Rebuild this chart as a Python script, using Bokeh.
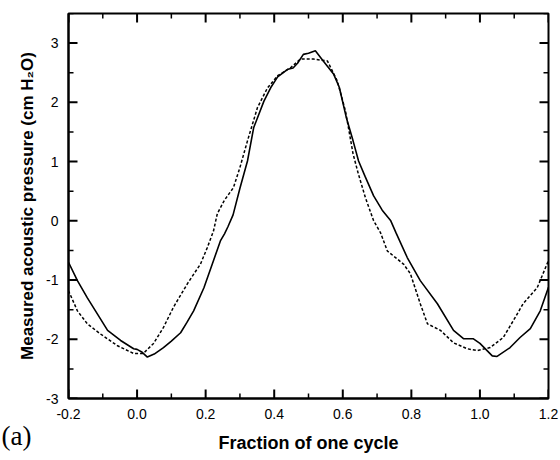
from bokeh.plotting import figure
from bokeh.models import FixedTicker, Range1d, Title, PrintfTickFormatter
from bokeh.embed import file_html
from bokeh.resources import INLINE

# ---- data ----
solid_x = [-0.20, -0.174, -0.145, -0.115, -0.086, -0.048, -0.01, 0.00, 0.015, 0.03, 0.05, 0.077,
           0.10, 0.127, 0.145, 0.165, 0.195, 0.223, 0.243, 0.255, 0.265, 0.28, 0.30, 0.322,
           0.34, 0.37, 0.39, 0.41, 0.44, 0.455, 0.468, 0.485, 0.50, 0.52, 0.543, 0.573, 0.59,
           0.61, 0.63, 0.646, 0.665, 0.69, 0.715, 0.74, 0.755, 0.788, 0.826, 0.876, 0.923,
           0.952, 0.98, 1.00, 1.036, 1.05, 1.088, 1.117, 1.147, 1.176, 1.20]
solid_y = [-0.70, -1.01, -1.30, -1.58, -1.85, -2.02, -2.16, -2.17, -2.22, -2.30, -2.25, -2.14,
           -2.03, -1.89, -1.72, -1.52, -1.13, -0.67, -0.34, -0.22, -0.10, 0.10, 0.55, 1.01,
           1.57, 2.02, 2.25, 2.43, 2.56, 2.58, 2.66, 2.81, 2.83, 2.87, 2.70, 2.48, 2.25,
           1.75, 1.35, 1.01, 0.75, 0.42, 0.18, 0.00, -0.20, -0.62, -1.01, -1.40, -1.85,
           -1.99, -1.99, -2.07, -2.28, -2.29, -2.14, -1.97, -1.82, -1.52, -1.12]

dashed_x = [-0.20, -0.174, -0.145, -0.107, -0.057, -0.01, 0.018, 0.048, 0.077, 0.106, 0.147,
            0.185, 0.205, 0.223, 0.234, 0.255, 0.281, 0.30, 0.322, 0.351, 0.38, 0.41, 0.447,
            0.476, 0.514, 0.555, 0.584, 0.608, 0.63, 0.645, 0.666, 0.69, 0.71, 0.73, 0.777,
            0.797, 0.826, 0.847, 0.885, 0.923, 0.963, 0.992, 1.03, 1.068, 1.097, 1.126, 1.167, 1.20]
dashed_y = [-1.18, -1.52, -1.74, -1.91, -2.11, -2.24, -2.24, -2.07, -1.80, -1.46, -1.06,
            -0.73, -0.45, -0.17, 0.12, 0.35, 0.56, 0.90, 1.35, 1.91, 2.24, 2.45, 2.58,
            2.73, 2.73, 2.70, 2.36, 1.85, 1.13, 0.80, 0.39, 0.00, -0.20, -0.51, -0.73,
            -0.89, -1.40, -1.74, -1.85, -2.06, -2.16, -2.19, -2.14, -1.97, -1.69, -1.40, -1.13, -0.67]

x_ticks = [-0.2, 0.0, 0.2, 0.4, 0.6, 0.8, 1.0, 1.2]
x_minor = [-0.1, 0.1, 0.3, 0.5, 0.7, 0.9, 1.1]
y_ticks = [-3, -2, -1, 0, 1, 2, 3]
y_minor = [-2.5, -1.5, -0.5, 0.5, 1.5, 2.5, 3.5]

x_lo, x_hi = -0.2, 1.2
y_lo, y_hi = -3.0, 3.5

FRAME_W, FRAME_H = 480, 385

p = figure(width=560, height=460, output_backend="svg", toolbar_location=None,
           x_range=Range1d(x_lo, x_hi), y_range=Range1d(y_lo, y_hi),
           min_border_left=68, min_border_right=12, min_border_top=13, min_border_bottom=62)
p.background_fill_color = "white"
p.border_fill_color = "white"
p.xgrid.visible = False
p.ygrid.visible = False
p.outline_line_color = "black"
p.outline_line_width = 2

p.line(solid_x, solid_y, line_color="black", line_width=1.6)
p.line(dashed_x, dashed_y, line_color="black", line_width=1.5, line_dash="3 2")

# inward ticks on all four sides (lengths given in pixels, converted to data units)
dx_px = (x_hi - x_lo) / FRAME_W
dy_px = (y_hi - y_lo) / FRAME_H
for tk, ln, w in ((x_ticks, 9, 2), (x_minor, 5, 1.5)):
    n = len(tk)
    p.segment(x0=tk, y0=[y_lo] * n, x1=tk, y1=[y_lo + ln * dy_px] * n,
              line_color="black", line_width=w)
    p.segment(x0=tk, y0=[y_hi] * n, x1=tk, y1=[y_hi - ln * dy_px] * n,
              line_color="black", line_width=w)
for tk, ln, w in ((y_ticks, 9, 2), (y_minor, 5, 1.5)):
    n = len(tk)
    p.segment(x0=[x_lo] * n, y0=tk, x1=[x_lo + ln * dx_px] * n, y1=tk,
              line_color="black", line_width=w)
    p.segment(x0=[x_hi] * n, y0=tk, x1=[x_hi - ln * dx_px] * n, y1=tk,
              line_color="black", line_width=w)

xa = p.xaxis[0]
ya = p.yaxis[0]
xa.ticker = FixedTicker(ticks=x_ticks, minor_ticks=[])
ya.ticker = FixedTicker(ticks=y_ticks, minor_ticks=[])
xa.formatter = PrintfTickFormatter(format="%.1f")
ya.formatter = PrintfTickFormatter(format="%d")
for ax in (xa, ya):
    ax.major_tick_in = 0
    ax.major_tick_out = 0
    ax.minor_tick_in = 0
    ax.minor_tick_out = 0
    ax.axis_line_width = 2
    ax.axis_line_color = "black"
    ax.major_label_text_font = "Liberation Sans"
    ax.major_label_text_font_size = "14px"
    ax.major_label_text_color = "black"
    ax.axis_label_text_font = "Liberation Sans"
    ax.axis_label_text_font_style = "bold"
    ax.axis_label_text_color = "black"
xa.axis_label_text_font_size = "18px"
ya.axis_label_text_font_size = "17px"
xa.major_label_standoff = 10
ya.major_label_standoff = 10
xa.axis_label = "Fraction of one cycle"
ya.axis_label = "Measured acoustic pressure (cm H\u2082O)"
xa.axis_label_standoff = 11
ya.axis_label_standoff = 6

panel_tag = Title(text="(a)", align="left", offset=-67, standoff=-70, vertical_align="top",
                  text_font="Liberation Serif", text_font_size="27px",
                  text_font_style="normal", text_color="black")
p.add_layout(panel_tag, "below")

open("out.html", "w").write(file_html(p, INLINE))
